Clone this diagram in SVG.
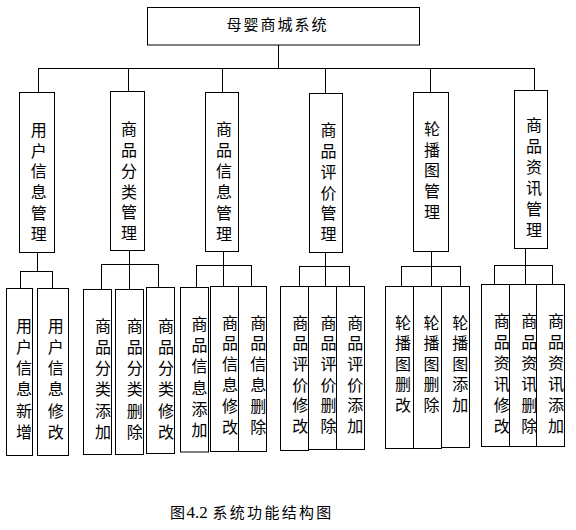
<svg xmlns="http://www.w3.org/2000/svg" width="576" height="530" viewBox="0 0 576 530">
<style>
rect{fill:#fff;stroke:#000;stroke-width:1}
.c line{stroke:#000;stroke-width:1}
text{font-family:"Noto Sans CJK SC","Noto Sans",sans-serif;fill:#000}
.v{font-size:16px;writing-mode:vertical-rl;text-anchor:start}
</style>
<rect x="0" y="0" width="576" height="530" style="stroke:none"/>
<g class="c" id="connectors">
<line x1="278.5" y1="45" x2="278.5" y2="68.5"/>
<line x1="38" y1="68.5" x2="535" y2="68.5"/>
<line x1="38.5" y1="68.5" x2="38.5" y2="92.5"/>
<line x1="128.5" y1="68.5" x2="128.5" y2="91.5"/>
<line x1="222.5" y1="68.5" x2="222.5" y2="92.5"/>
<line x1="325.5" y1="68.5" x2="325.5" y2="93.5"/>
<line x1="430.5" y1="68.5" x2="430.5" y2="92.5"/>
<line x1="534.5" y1="68.5" x2="534.5" y2="90.5"/>
<line x1="37.5" y1="252.5" x2="37.5" y2="271.5"/>
<line x1="20" y1="271.5" x2="53" y2="271.5"/>
<line x1="20.5" y1="271.5" x2="20.5" y2="288.5"/>
<line x1="52.5" y1="271.5" x2="52.5" y2="288.5"/>
<line x1="129.5" y1="250.5" x2="129.5" y2="289.5"/>
<line x1="101" y1="264.5" x2="159" y2="264.5"/>
<line x1="101.5" y1="264.5" x2="101.5" y2="289.5"/>
<line x1="158.5" y1="264.5" x2="158.5" y2="287.5"/>
<line x1="223.5" y1="251.5" x2="223.5" y2="286.5"/>
<line x1="196" y1="265.5" x2="252" y2="265.5"/>
<line x1="196.5" y1="265.5" x2="196.5" y2="287.5"/>
<line x1="251.5" y1="265.5" x2="251.5" y2="286.5"/>
<line x1="325.5" y1="252.5" x2="325.5" y2="286.5"/>
<line x1="299" y1="266.5" x2="350" y2="266.5"/>
<line x1="299.5" y1="266.5" x2="299.5" y2="286.5"/>
<line x1="349.5" y1="266.5" x2="349.5" y2="286.5"/>
<line x1="431.5" y1="251.5" x2="431.5" y2="286.5"/>
<line x1="401" y1="266.5" x2="461" y2="266.5"/>
<line x1="401.5" y1="266.5" x2="401.5" y2="286.5"/>
<line x1="460.5" y1="266.5" x2="460.5" y2="286.5"/>
<line x1="525.5" y1="248.5" x2="525.5" y2="284.5"/>
<line x1="494" y1="265.5" x2="553" y2="265.5"/>
<line x1="494.5" y1="265.5" x2="494.5" y2="284.5"/>
<line x1="552.5" y1="265.5" x2="552.5" y2="284.5"/>
</g>
<g id="root">
<rect x="147.5" y="7.5" width="272" height="37.5"/>
<text x="226.5" y="29.5" style="font-size:15px;letter-spacing:2px">母婴商城系统</text>
</g>
<g id="n1"><rect x="19.5" y="92.5" width="35" height="160"/><text class="v" x="38.7" y="122" style="letter-spacing:4.7px">用户信息管理</text></g>
<g id="n2"><rect x="110.5" y="91.5" width="34" height="159"/><text class="v" x="129" y="121.2" style="letter-spacing:4.8px">商品分类管理</text></g>
<g id="n3"><rect x="205.5" y="92.5" width="33" height="159"/><text class="v" x="224" y="121.2" style="letter-spacing:4.9px">商品信息管理</text></g>
<g id="n4"><rect x="309.5" y="93.5" width="33" height="159"/><text class="v" x="328.5" y="122.2" style="letter-spacing:4.8px">商品评价管理</text></g>
<g id="n5"><rect x="413.5" y="92.5" width="35" height="159"/><text class="v" x="432" y="120.8" style="letter-spacing:4.7px">轮播图管理</text></g>
<g id="n6"><rect x="514.5" y="90.5" width="33" height="158"/><text class="v" x="534" y="117.3" style="letter-spacing:4.9px">商品资讯管理</text></g>
<g id="n1a"><rect x="6.5" y="288.5" width="26" height="167"/><text class="v" x="24" y="317.8" style="letter-spacing:5.2px">用户信息新增</text></g>
<g id="n1b"><rect x="37.5" y="288.5" width="31" height="167"/><text class="v" x="55.8" y="317.8" style="letter-spacing:5.2px">用户信息修改</text></g>
<g id="n2a"><rect x="83.5" y="289.5" width="28" height="165"/><text class="v" x="103" y="317.8" style="letter-spacing:5.2px">商品分类添加</text></g>
<g id="n2b"><rect x="115.5" y="289.5" width="28" height="165"/><text class="v" x="134.8" y="317.8" style="letter-spacing:5.2px">商品分类删除</text></g>
<g id="n2c"><rect x="146.5" y="287.5" width="28" height="166"/><text class="v" x="166" y="317.8" style="letter-spacing:5.2px">商品分类修改</text></g>
<g id="n3a"><rect x="180.5" y="287.5" width="28" height="164.5"/><text class="v" x="199.5" y="316" style="letter-spacing:5.2px">商品信息添加</text></g>
<g id="n3b"><rect x="210.5" y="286.5" width="28" height="165"/><text class="v" x="230" y="314.5" style="letter-spacing:4.8px">商品信息修改</text></g>
<g id="n3c"><rect x="238.5" y="286.5" width="28" height="165"/><text class="v" x="258.2" y="314.5" style="letter-spacing:4.8px">商品信息删除</text></g>
<g id="n4a"><rect x="280.5" y="286.5" width="28" height="164"/><text class="v" x="300.2" y="314.5" style="letter-spacing:4.7px">商品评价修改</text></g>
<g id="n4b"><rect x="308.5" y="286.5" width="28" height="163"/><text class="v" x="328.5" y="314.5" style="letter-spacing:4.7px">商品评价删除</text></g>
<g id="n4c"><rect x="336.5" y="286.5" width="28" height="163"/><text class="v" x="355.2" y="314.5" style="letter-spacing:4.7px">商品评价添加</text></g>
<g id="n5a"><rect x="385.5" y="286.5" width="28" height="162"/><text class="v" x="403" y="314.5" style="letter-spacing:4.6px">轮播图删改</text></g>
<g id="n5b"><rect x="413.5" y="286.5" width="28" height="162"/><text class="v" x="431.5" y="314.5" style="letter-spacing:4.6px">轮播图删除</text></g>
<g id="n5c"><rect x="441.5" y="286.5" width="28" height="161"/><text class="v" x="460.2" y="314.5" style="letter-spacing:4.6px">轮播图添加</text></g>
<g id="n6a"><rect x="481.5" y="284.5" width="28" height="162"/><text class="v" x="501.8" y="313" style="letter-spacing:5px">商品资讯修改</text></g>
<g id="n6b"><rect x="509.5" y="284.5" width="27" height="162"/><text class="v" x="529.3" y="313" style="letter-spacing:5px">商品资讯删除</text></g>
<g id="n6c"><rect x="536.5" y="284.5" width="28" height="162"/><text class="v" x="556" y="313" style="letter-spacing:5px">商品资讯添加</text></g>
<g id="caption">
<text x="170" y="518" style="font-size:15px">图</text>
<text x="186.5" y="518" style="font-family:'Liberation Serif',serif;font-size:17px">4.2</text>
<text x="212.5" y="518" style="font-size:15px;letter-spacing:2.3px">系统功能结构图</text>
</g>
</svg>
